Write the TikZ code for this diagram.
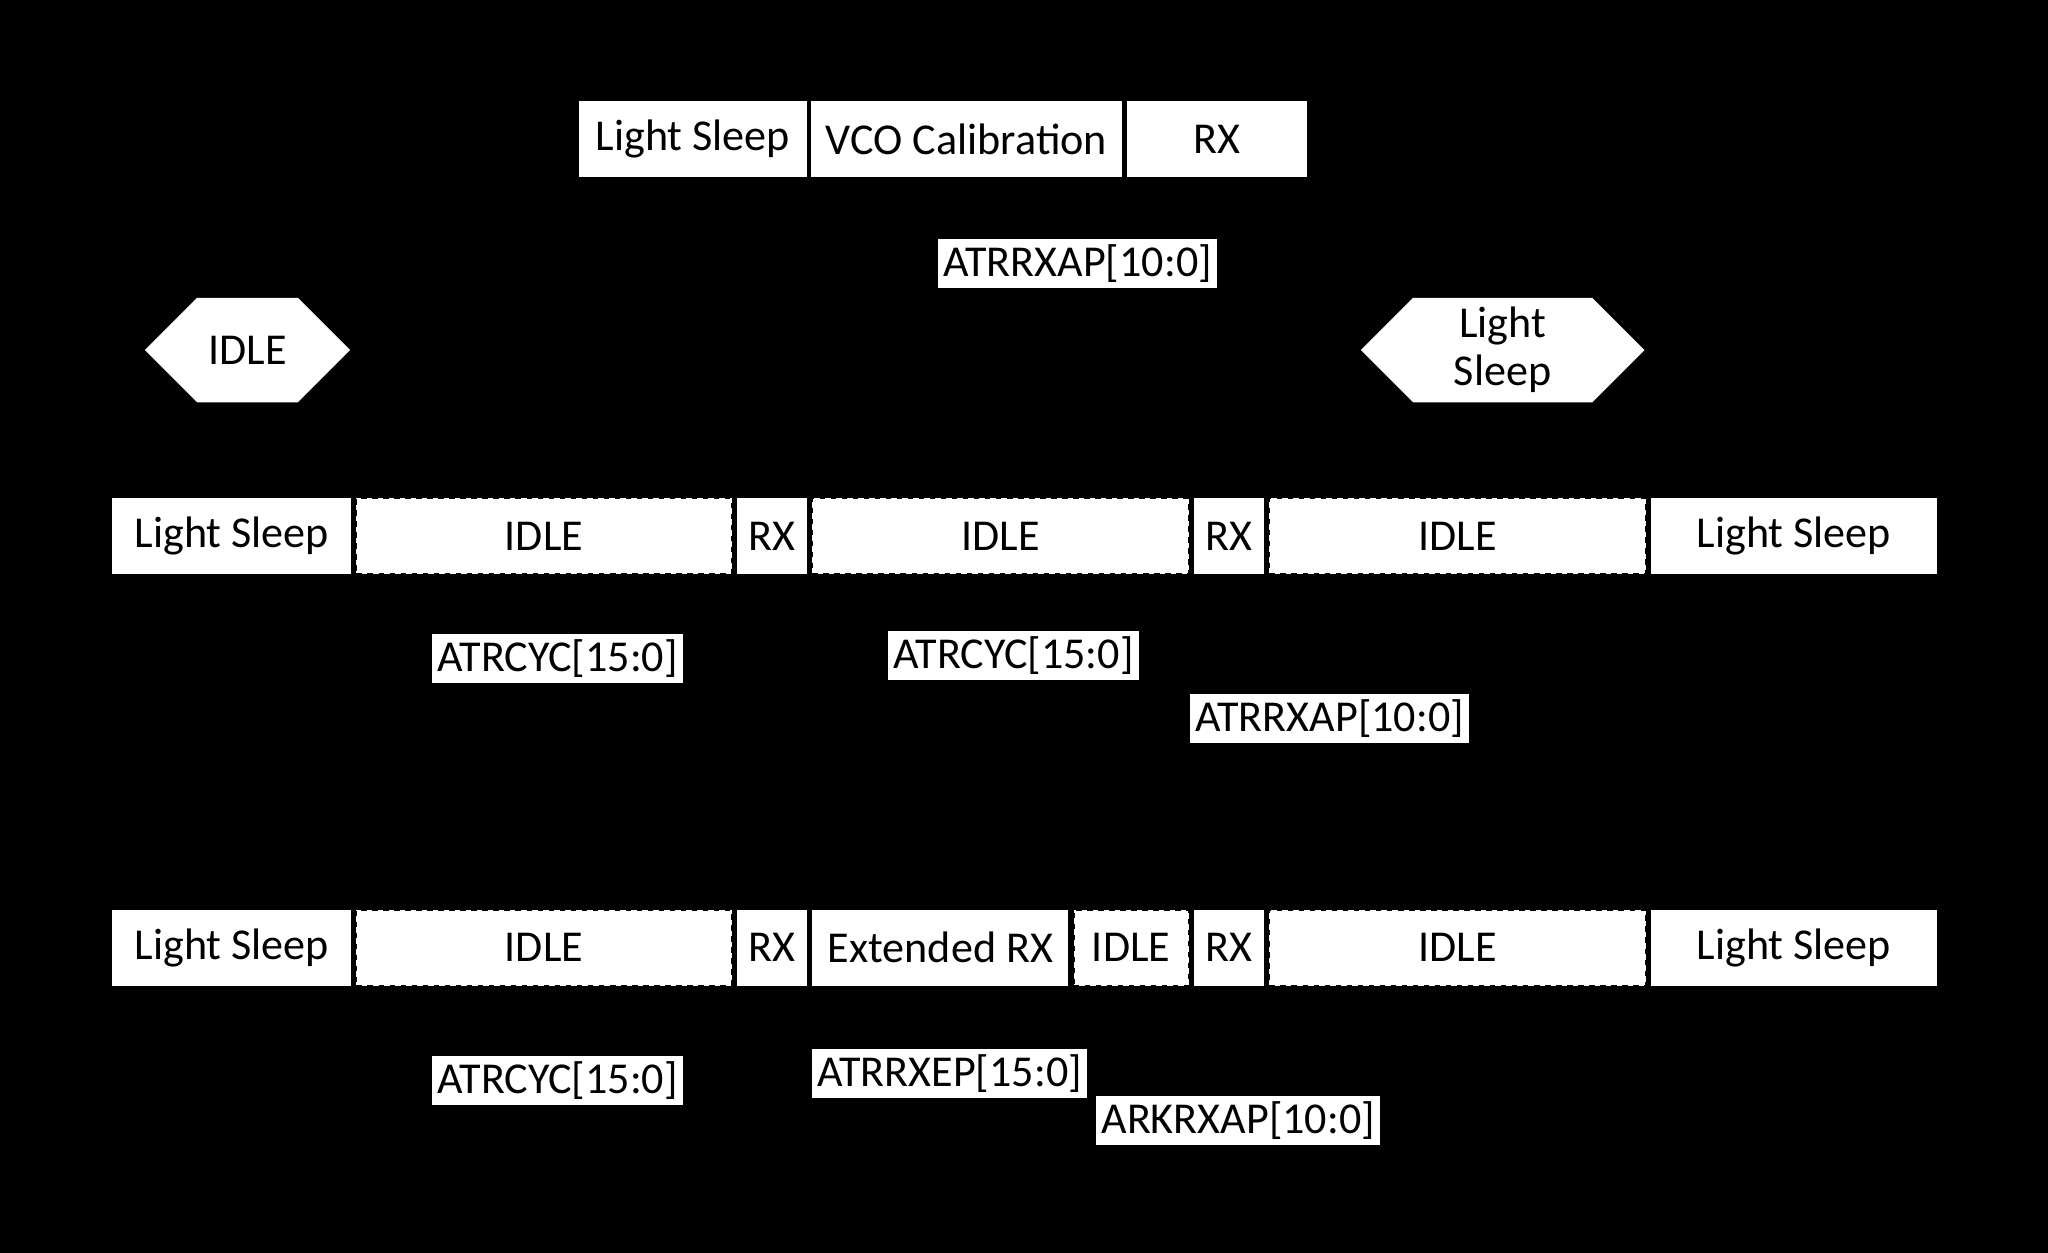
\documentclass[tikz,border=0pt]{standalone}
\usepackage{fontspec}
\setmainfont{Carlito}
\usetikzlibrary{shapes.symbols}
\begin{document}
\begin{tikzpicture}[
		x=0.01cm, y=-0.01cm,
		every node/.style={font=\fontsize{9.6}{11}\selectfont},
		state/.style={draw=none, fill=white, minimum height=0.58cm, inner sep=0pt},
		wait/.style={state, draw=black, dash pattern=on 1.2pt off 1.2pt, line width=0.4pt},
		field/.style={fill=white, inner sep=1.2pt},
		mode/.style={signal, signal to=west and east, signal pointer angle=90, fill=white,
			minimum height=0.8cm, inner sep=1pt, align=center, font=\fontsize{9.6}{10.5}\selectfont},
		]
	\fill[black] (0,0) rectangle (1568,959);
	\useasboundingbox (0,0) rectangle (1568,959);

	% top sequence
	\node (tLS) [state, minimum width=1.75cm] at (530.5,106.5) {Light Sleep};
	\node (tVCO) [state, minimum width=2.38cm] at (740,106.5) {VCO Calibration};
	\node (tRX) [state, minimum width=1.38cm] at (932,106.5) {RX};
	\node (tAP) [field] at (825,202) {ATRRXAP[10:0]};

	\node (mIdle) [mode, minimum width=1.57cm] at (189.5,268) {IDLE};
	\node (mLS) [mode, minimum width=2.17cm] at (1150.5,268) {Light\\Sleep};

	% normal cycle
	\node (aLS1) [state, minimum width=1.83cm] at (177.5,410.5) {Light Sleep};
	\node (aI1) [wait, minimum width=2.87cm] at (416.5,410.5) {IDLE};
	\node (aRX1) [state, minimum width=0.54cm] at (591,410.5) {RX};
	\node (aI2) [wait, minimum width=2.88cm] at (766,410.5) {IDLE};
	\node (aRX2) [state, minimum width=0.54cm] at (941,410.5) {RX};
	\node (aI3) [wait, minimum width=2.88cm] at (1116,410.5) {IDLE};
	\node (aLS2) [state, minimum width=2.19cm] at (1373.5,410.5) {Light Sleep};
	\node (aCyc1) [field] at (427,504) {ATRCYC[15:0]};
	\node (aCyc2) [field] at (776,502) {ATRCYC[15:0]};
	\node (aAP) [field] at (1018,550) {ATRRXAP[10:0]};

	% extended cycle
	\node (bLS1) [state, minimum width=1.83cm] at (177.5,725.5) {Light Sleep};
	\node (bI1) [wait, minimum width=2.87cm] at (416.5,725.5) {IDLE};
	\node (bRX1) [state, minimum width=0.54cm] at (591,725.5) {RX};
	\node (bEx) [state, minimum width=1.96cm] at (720,725.5) {Extended RX};
	\node (bI2) [wait, minimum width=0.88cm] at (866,725.5) {IDLE};
	\node (bRX2) [state, minimum width=0.54cm] at (941,725.5) {RX};
	\node (bI3) [wait, minimum width=2.88cm] at (1116,725.5) {IDLE};
	\node (bLS2) [state, minimum width=2.19cm] at (1373.5,725.5) {Light Sleep};
	\node (bCyc) [field] at (427,827) {ATRCYC[15:0]};
	\node (bEP) [field] at (727,822) {ATRRXEP[15:0]};
	\node (bAP) [field] at (948,858) {ARKRXAP[10:0]};
\end{tikzpicture}
\end{document}
